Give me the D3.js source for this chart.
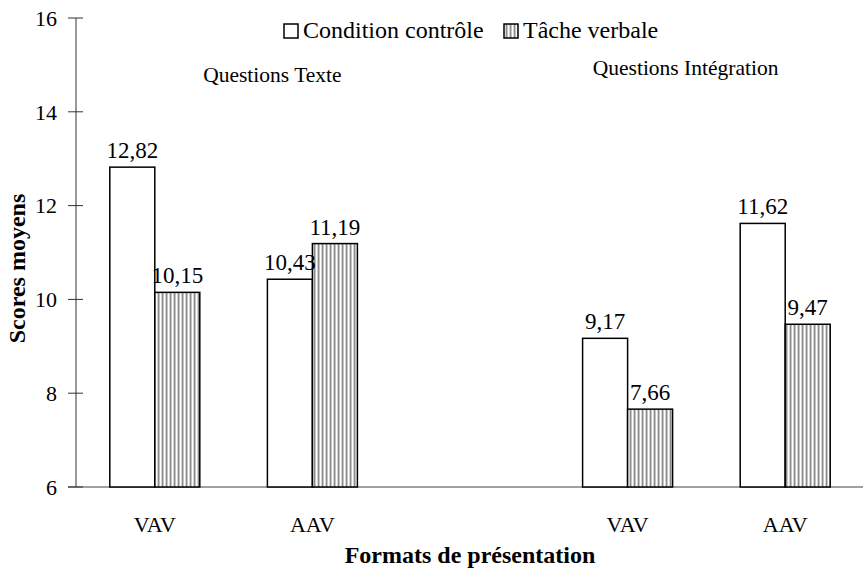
<!DOCTYPE html>
<html>
<head>
<meta charset="utf-8">
<script src="https://cdn.jsdelivr.net/npm/d3@7"></script>
<style>
  body { margin: 0; background: #fff; }
  text { font-family: "Liberation Serif", "Times New Roman", serif; fill: #000; }
</style>
</head>
<body>
<div class="chart"></div>
<script>
// data
const slots = ['T-VAV', 'T-AAV', 'gap', 'I-VAV', 'I-AAV']
const slotLabels = ['VAV', 'AAV', '', 'VAV', 'AAV']
const conditions = ['Condition contrôle', 'Tâche verbale']
const controle = [12.82, 10.43, 9.17, 11.62]
const verbale = [10.15, 11.19, 7.66, 9.47]
const barSlots = ['T-VAV', 'T-AAV', 'I-VAV', 'I-AAV']
const yTicks = [6, 8, 10, 12, 14, 16]

const fullWidth = 863, fullHeight = 570
const margin = { top: 18, right: -1, bottom: 83, left: 76 }
const height = fullHeight - margin.top - margin.bottom

const svg = d3.select('.chart').append('svg')
    .attr('width', fullWidth)
    .attr('height', fullHeight)

// stripe pattern for the verbal task bars
const defs = svg.append('defs')
const pat = defs.append('pattern')
    .attr('id', 'stripes')
    .attr('patternUnits', 'userSpaceOnUse')
    .attr('width', 4).attr('height', 4)
pat.append('rect').attr('width', 4).attr('height', 4).attr('fill', '#d4d4d4')
pat.append('rect').attr('x', 0).attr('width', 1).attr('height', 4).attr('fill', '#fff')
pat.append('rect').attr('x', 2).attr('width', 1.2).attr('height', 4).attr('fill', '#8c8c8c')

const x = d3.scalePoint()
    .domain(slots)
    .range([margin.left, fullWidth - margin.right])
    .padding(0.5)

const x1 = d3.scaleBand()
    .domain(conditions)
    .range([-45, 45])

const y = d3.scaleLinear()
    .domain([6, 16])
    .range([margin.top + height, margin.top])

// baseline
svg.append('line')
    .attr('x1', margin.left - 8).attr('x2', fullWidth)
    .attr('y1', y(6)).attr('y2', y(6))
    .attr('stroke', '#808080').attr('stroke-width', 1.5)

// y axis
const axis = svg.append('g')
axis.append('line')
    .attr('x1', margin.left).attr('x2', margin.left)
    .attr('y1', y(16)).attr('y2', y(6))
    .attr('stroke', '#333').attr('stroke-width', 1)
axis.selectAll('.tick').data(yTicks).enter().append('line')
    .attr('x1', margin.left - 8).attr('x2', margin.left + 7)
    .attr('y1', d => y(d)).attr('y2', d => y(d))
    .attr('stroke', '#333').attr('stroke-width', 1)
axis.selectAll('.lbl').data(yTicks).enter().append('text')
    .attr('x', margin.left - 19)
    .attr('y', d => y(d))
    .attr('dy', '0.35em')
    .attr('text-anchor', 'end')
    .style('font-size', '22px')
    .text(d => d)

// bars
const rows = barSlots.map((s, i) => [
    { slot: s, cond: conditions[0], v: controle[i] },
    { slot: s, cond: conditions[1], v: verbale[i] }
]).flat()

svg.selectAll('.bar').data(rows).enter().append('rect')
    .attr('x', d => x(d.slot) + x1(d.cond))
    .attr('y', d => y(d.v))
    .attr('width', x1.bandwidth())
    .attr('height', d => y(6) - y(d.v))
    .attr('fill', d => d.cond === conditions[0] ? '#fff' : 'url(#stripes)')
    .attr('stroke', '#000')
    .attr('stroke-width', 1.5)

svg.selectAll('.val').data(rows).enter().append('text')
    .attr('x', d => x(d.slot) + x1(d.cond) + x1.bandwidth() / 2)
    .attr('y', d => y(d.v) - 9)
    .attr('text-anchor', 'middle')
    .style('font-size', '23px')
    .text(d => d3.format('.2f')(d.v).replace('.', ','))

// category labels
svg.selectAll('.cat').data(slots).enter().append('text')
    .attr('x', d => x(d))
    .attr('y', 532)
    .attr('text-anchor', 'middle')
    .style('font-size', '22px')
    .text((d, i) => slotLabels[i])

// group labels
svg.append('text')
    .attr('x', x('T-AAV') - 40).attr('y', 82)
    .attr('text-anchor', 'middle')
    .style('font-size', '21.5px')
    .text('Questions Texte')
svg.append('text')
    .attr('x', x('I-VAV') + 58).attr('y', 75)
    .attr('text-anchor', 'middle')
    .style('font-size', '21.5px')
    .text('Questions Intégration')

// legend
const legend = svg.append('g')
const legendX = [284, 504]
conditions.forEach((c, i) => {
    legend.append('rect')
        .attr('x', legendX[i]).attr('y', 24)
        .attr('width', 14).attr('height', 14)
        .attr('fill', i === 0 ? '#fff' : 'url(#stripes)')
        .attr('stroke', '#000').attr('stroke-width', 1.5)
    legend.append('text')
        .attr('x', legendX[i] + 19).attr('y', 38)
        .style('font-size', '24px')
        .text(c)
})

// axis titles
svg.append('text')
    .attr('transform', `translate(25, ${y(11) + 16}) rotate(-90)`)
    .attr('text-anchor', 'middle')
    .style('font-size', '24px')
    .style('font-weight', 'bold')
    .text('Scores moyens')
svg.append('text')
    .attr('x', 470).attr('y', 563)
    .attr('text-anchor', 'middle')
    .style('font-size', '24px')
    .style('font-weight', 'bold')
    .text('Formats de présentation')
</script>
</body>
</html>
